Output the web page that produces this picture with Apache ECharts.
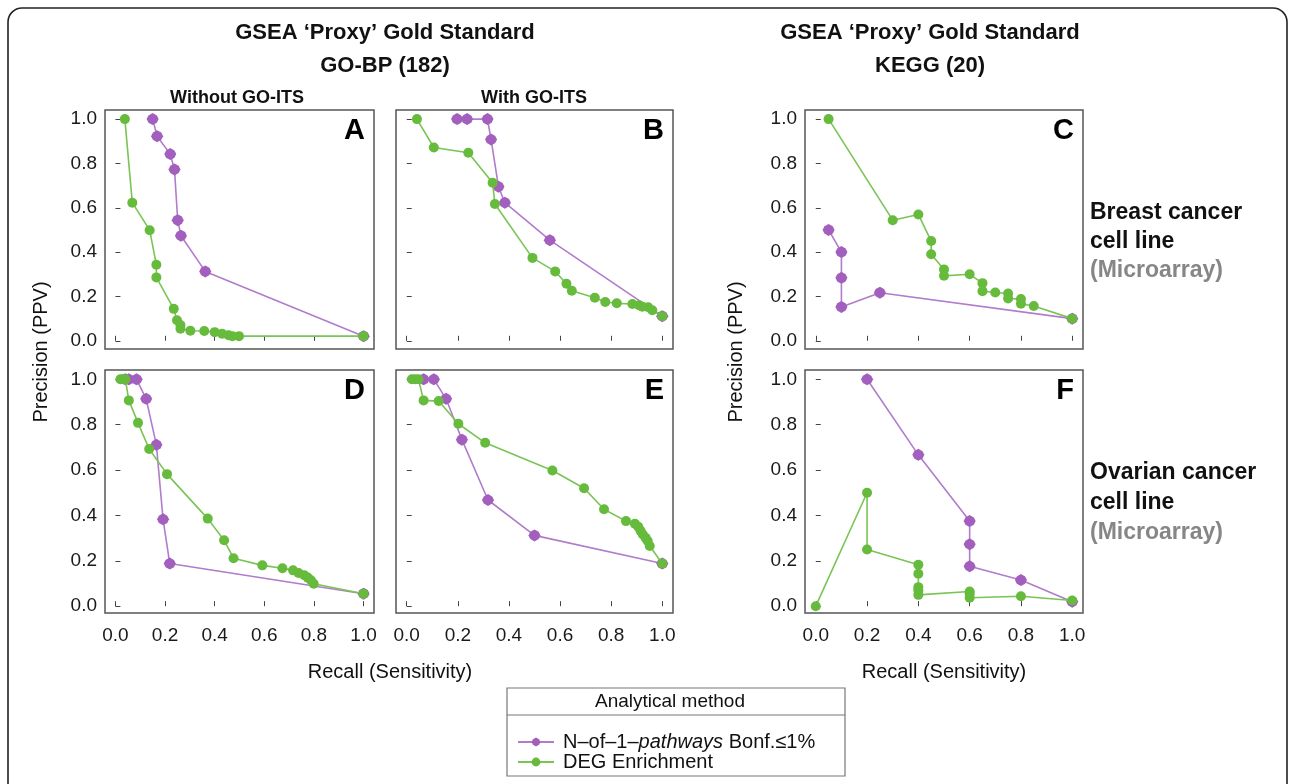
<!DOCTYPE html>
<html>
<head>
<meta charset="utf-8">
<script src="https://cdn.jsdelivr.net/npm/echarts@6/dist/echarts.min.js"></script>
<style>
html,body{margin:0;padding:0;background:#fff;}
#chart{width:1295px;height:784px;}
</style>
</head>
<body>
<div id="chart"></div>
<script>
// ---- tick labels ----
const xTicks = [0, 0.2, 0.4, 0.6, 0.8, 1.0];
const yTicks = [0, 0.2, 0.4, 0.6, 0.8, 1.0];
const seriesNames = ['N–of–1–pathways Bonf.≤1%', 'DEG Enrichment'];

// ---- Panel A: GO-BP, without GO-ITS, breast ----
const A_n1_recall = [0.15, 0.168, 0.221, 0.238, 0.251, 0.264, 0.362, 1.0];
const A_n1_ppv    = [1.0, 0.923, 0.842, 0.773, 0.544, 0.474, 0.313, 0.021];
const A_deg_recall = [0.038, 0.068, 0.138, 0.165, 0.165, 0.235, 0.248, 0.262, 0.262, 0.302, 0.358, 0.40, 0.430, 0.456, 0.471, 0.498, 1.0];
const A_deg_ppv    = [1.0, 0.623, 0.499, 0.343, 0.286, 0.144, 0.093, 0.071, 0.054, 0.045, 0.044, 0.039, 0.032, 0.025, 0.021, 0.021, 0.021];

// ---- Panel B: GO-BP, with GO-ITS, breast ----
const B_n1_recall = [0.197, 0.236, 0.316, 0.330, 0.359, 0.384, 0.560, 1.0];
const B_n1_ppv    = [1.0, 1.0, 1.0, 0.908, 0.695, 0.623, 0.454, 0.111];
const B_deg_recall = [0.040, 0.106, 0.241, 0.336, 0.345, 0.492, 0.581, 0.625, 0.646, 0.736, 0.777, 0.822, 0.883, 0.909, 0.922, 0.945, 0.961, 1.0];
const B_deg_ppv    = [1.0, 0.872, 0.848, 0.713, 0.617, 0.374, 0.313, 0.257, 0.226, 0.194, 0.175, 0.169, 0.166, 0.160, 0.154, 0.151, 0.138, 0.111];

// ---- Panel C: KEGG, breast ----
const C_n1_recall = [0.05, 0.10, 0.10, 0.10, 0.25, 1.0];
const C_n1_ppv    = [0.5, 0.4, 0.284, 0.153, 0.217, 0.1];
const C_deg_recall = [0.05, 0.30, 0.40, 0.45, 0.45, 0.50, 0.50, 0.60, 0.65, 0.65, 0.70, 0.75, 0.75, 0.80, 0.80, 0.85, 1.0];
const C_deg_ppv    = [1.0, 0.544, 0.570, 0.450, 0.390, 0.322, 0.293, 0.300, 0.260, 0.224, 0.218, 0.213, 0.191, 0.188, 0.167, 0.157, 0.1];

// ---- Panel D: GO-BP, without GO-ITS, ovarian ----
const D_n1_recall = [0.04, 0.054, 0.085, 0.124, 0.165, 0.192, 0.219, 1.0];
const D_n1_ppv    = [1.0, 1.0, 1.0, 0.914, 0.711, 0.383, 0.188, 0.055];
const D_deg_recall = [0.02, 0.03, 0.04, 0.054, 0.091, 0.136, 0.208, 0.372, 0.438, 0.476, 0.592, 0.673, 0.716, 0.738, 0.761, 0.775, 0.788, 0.799, 1.0];
const D_deg_ppv    = [1.0, 1.0, 1.0, 0.907, 0.808, 0.693, 0.582, 0.386, 0.291, 0.211, 0.180, 0.167, 0.158, 0.146, 0.136, 0.126, 0.114, 0.099, 0.055];

// ---- Panel E: GO-BP, with GO-ITS, ovarian ----
const E_n1_recall = [0.066, 0.106, 0.154, 0.216, 0.318, 0.5, 1.0];
const E_n1_ppv    = [1.0, 1.0, 0.914, 0.734, 0.468, 0.312, 0.188];
const E_deg_recall = [0.02, 0.033, 0.046, 0.066, 0.125, 0.202, 0.307, 0.570, 0.694, 0.772, 0.858, 0.893, 0.906, 0.915, 0.924, 0.935, 0.943, 0.951, 1.0];
const E_deg_ppv    = [1.0, 1.0, 1.0, 0.907, 0.904, 0.804, 0.720, 0.598, 0.52, 0.427, 0.375, 0.363, 0.35, 0.332, 0.316, 0.301, 0.287, 0.265, 0.188];

// ---- Panel F: KEGG, ovarian ----
const F_n1_recall = [0.2, 0.4, 0.6, 0.6, 0.6, 0.8, 1.0];
const F_n1_ppv    = [1.0, 0.667, 0.375, 0.273, 0.176, 0.115, 0.02];
const F_deg_recall = [0.0, 0.2, 0.2, 0.4, 0.4, 0.4, 0.4, 0.4, 0.6, 0.6, 0.6, 0.8, 1.0];
const F_deg_ppv    = [0.0, 0.5, 0.25, 0.183, 0.143, 0.084, 0.07, 0.05, 0.065, 0.055, 0.037, 0.044, 0.025];

const panelLetters = ['A', 'B', 'C', 'D', 'E', 'F'];

// ---------------------------------------------------------------
const FONT = "'Liberation Sans', Arial, Helvetica, sans-serif";
const PURPLE = '#a25fbd', PURPLE_LINE = '#b07ccb';
const GREEN = '#66bb3d', GREEN_LINE = '#79c455';
const FAT_DIAMOND = 'path://M0,-10 L7,-6 L10,0 L7,6 L0,10 L-7,6 L-10,0 L-7,-6 Z';

const panels = [
  {n1: [A_n1_recall, A_n1_ppv], deg: [A_deg_recall, A_deg_ppv]},
  {n1: [B_n1_recall, B_n1_ppv], deg: [B_deg_recall, B_deg_ppv]},
  {n1: [C_n1_recall, C_n1_ppv], deg: [C_deg_recall, C_deg_ppv]},
  {n1: [D_n1_recall, D_n1_ppv], deg: [D_deg_recall, D_deg_ppv]},
  {n1: [E_n1_recall, E_n1_ppv], deg: [E_deg_recall, E_deg_ppv]},
  {n1: [F_n1_recall, F_n1_ppv], deg: [F_deg_recall, F_deg_ppv]}
];

// layout (pixels)
const gridBoxes = [
  {left: 105, top: 110, width: 269, height: 239},
  {left: 396, top: 110, width: 277, height: 239},
  {left: 805, top: 110, width: 278, height: 239},
  {left: 105, top: 370, width: 269, height: 243},
  {left: 396, top: 370, width: 277, height: 243},
  {left: 805, top: 370, width: 278, height: 243}
];
const showYLabel = [true, false, true, true, false, true];
const showXLabel = [false, false, false, true, true, true];
const yRange = [[-0.037, 1.041], [-0.037, 1.041], [-0.037, 1.041], [-0.03, 1.041], [-0.03, 1.041], [-0.03, 1.041]];

const zip = (a, b) => a.map((v, i) => [v, b[i]]);

const grids = gridBoxes.map(g => Object.assign({
  show: true, borderColor: '#555', borderWidth: 1.5, backgroundColor: 'transparent'
}, g));

const xAxes = gridBoxes.map((g, i) => ({
  type: 'value', gridIndex: i, min: -0.042, max: 1.042,
  axisLine: {show: false}, splitLine: {show: false},
  axisTick: {show: true, inside: true, length: 5, customValues: xTicks, lineStyle: {color: '#444', width: 1}},
  axisLabel: {show: showXLabel[i], customValues: xTicks, formatter: v => v.toFixed(1),
    fontSize: 19, color: '#1a1a1a', margin: 13, fontFamily: FONT}
}));
const yAxes = gridBoxes.map((g, i) => ({
  type: 'value', gridIndex: i, min: yRange[i][0], max: yRange[i][1],
  axisLine: {show: false}, splitLine: {show: false},
  axisTick: {show: true, inside: true, length: 5, customValues: yTicks, lineStyle: {color: '#444', width: 1}},
  axisLabel: {show: showYLabel[i], customValues: yTicks, formatter: v => v.toFixed(1),
    fontSize: 19, color: '#1a1a1a', margin: 8, fontFamily: FONT}
}));

const series = [];
panels.forEach((p, i) => {
  series.push({
    name: seriesNames[0], type: 'line', xAxisIndex: i, yAxisIndex: i,
    data: zip(p.n1[0], p.n1[1]), symbol: FAT_DIAMOND, symbolSize: 12,
    itemStyle: {color: PURPLE}, lineStyle: {color: PURPLE_LINE, width: 1.6},
    clip: false, animation: false, z: 3
  });
  series.push({
    name: seriesNames[1], type: 'line', xAxisIndex: i, yAxisIndex: i,
    data: zip(p.deg[0], p.deg[1]), symbol: 'circle', symbolSize: 10,
    itemStyle: {color: GREEN}, lineStyle: {color: GREEN_LINE, width: 1.6},
    clip: false, animation: false, z: 4
  });
});

function txt(x, y, text, size, opts) {
  return {
    type: 'text', x: x, y: y, silent: true,
    rotation: (opts && opts.rotation) || 0,
    style: Object.assign({
      text: text, fontSize: size, fontFamily: FONT, fill: '#111',
      align: 'center', verticalAlign: 'middle',
      fontWeight: (opts && opts.bold) ? 'bold' : 'normal'
    }, (opts && opts.style) || {})
  };
}

const graphics = [
  // outer rounded frame
  {type: 'rect', silent: true, shape: {x: 8, y: 8, width: 1279, height: 800, r: 14},
   style: {fill: 'none', stroke: '#222', lineWidth: 1.6}},
  // titles
  txt(385, 33, 'GSEA ‘Proxy’ Gold Standard', 22, {bold: true}),
  txt(385, 66, 'GO-BP (182)', 22, {bold: true}),
  txt(237, 98, 'Without GO-ITS', 18, {bold: true}),
  txt(534, 98, 'With GO-ITS', 18, {bold: true}),
  txt(930, 33, 'GSEA ‘Proxy’ Gold Standard', 22, {bold: true}),
  txt(930, 66, 'KEGG (20)', 22, {bold: true}),
  // right-side row labels
  txt(1090, 213, 'Breast cancer', 23, {bold: true, style: {align: 'left'}}),
  txt(1090, 242, 'cell line', 23, {bold: true, style: {align: 'left'}}),
  txt(1090, 271, '(Microarray)', 23, {bold: true, style: {align: 'left', fill: '#868686'}}),
  txt(1090, 473, 'Ovarian cancer', 23, {bold: true, style: {align: 'left'}}),
  txt(1090, 503, 'cell line', 23, {bold: true, style: {align: 'left'}}),
  txt(1090, 533, '(Microarray)', 23, {bold: true, style: {align: 'left', fill: '#868686'}}),
  // axis names
  txt(41, 352, 'Precision (PPV)', 20, {rotation: Math.PI / 2}),
  txt(736, 352, 'Precision (PPV)', 20, {rotation: Math.PI / 2}),
  txt(390, 672, 'Recall (Sensitivity)', 20),
  txt(944, 672, 'Recall (Sensitivity)', 20),
  // legend box
  {type: 'rect', silent: true, shape: {x: 507, y: 688, width: 338, height: 88},
   style: {fill: 'none', stroke: '#777', lineWidth: 1.2}},
  {type: 'line', silent: true, shape: {x1: 507, y1: 715, x2: 845, y2: 715},
   style: {stroke: '#777', lineWidth: 1.2}},
  txt(670, 702, 'Analytical method', 19)
];
// panel letters
gridBoxes.forEach((g, i) => {
  graphics.push(txt(g.left + g.width - 9, g.top + 21, panelLetters[i], 29,
    {bold: true, style: {align: 'right', fill: '#000'}}));
});

const chart = echarts.init(document.getElementById('chart'), null, {renderer: 'canvas'});
chart.setOption({
  backgroundColor: '#fff',
  animation: false,
  grid: grids,
  xAxis: xAxes,
  yAxis: yAxes,
  series: series,
  legend: {
    data: seriesNames, orient: 'vertical', left: 517, top: 732, padding: 0,
    itemGap: 0, itemWidth: 36, itemHeight: 11, selectedMode: false,
    formatter: function (name) {
      if (name === seriesNames[0]) return '{n|N–of–1–}{i|pathways}{n| Bonf.≤1%}';
      return '{n|' + name + '}';
    },
    textStyle: {
      fontSize: 20, fontFamily: FONT, color: '#111', padding: [0, 0, 0, 4],
      rich: {
        n: {fontSize: 20, fontFamily: FONT, color: '#111', lineHeight: 19},
        i: {fontSize: 20, fontFamily: FONT, color: '#111', fontStyle: 'italic', lineHeight: 19}
      }
    }
  },
  graphic: graphics
});
</script>
</body>
</html>
